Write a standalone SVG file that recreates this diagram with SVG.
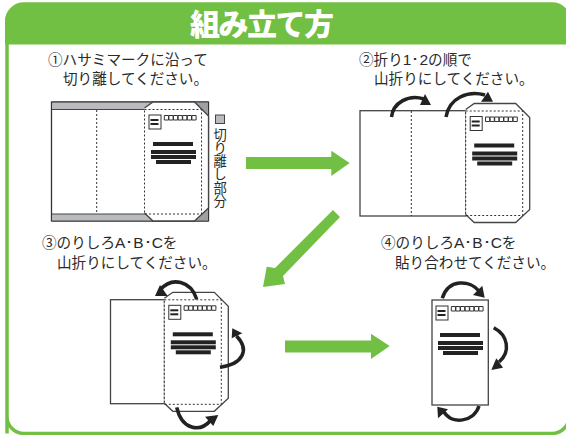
<svg xmlns="http://www.w3.org/2000/svg" xmlns:xlink="http://www.w3.org/1999/xlink" width="566" height="435" viewBox="0 0 566 435">
<style>
text{font-family:"Noto Sans CJK JP","Noto Sans",sans-serif;fill:#2a2a2a;font-size:14.6px}
.title{font-size:30px;font-weight:900;fill:#fff}
.lat{font-family:"Liberation Sans",sans-serif;font-size:15.500px}
.paper{fill:#fff;stroke:#444;stroke-width:1.3}
.edge{fill:none;stroke:#444;stroke-width:1.3}
.dot{fill:none;stroke:#333;stroke-width:1;stroke-dasharray:2 2}
.ink{fill:#222}
.thin{fill:#fff;stroke:#333;stroke-width:1}
.curve{fill:none;stroke:#222;stroke-width:3.500;stroke-linecap:butt}
.head{fill:#222}
.big{fill:#72c043}
</style>
<defs>
<g id="content">
<rect class="thin" x="4.500" y="13" width="12" height="14"/>
<rect class="ink" x="6" y="17" width="8" height="2"/>
<rect class="ink" x="6" y="21" width="8" height="2"/>
<path class="thin" d="M19.800 13.500h4.200v4.500h-4.200zM24.400 13.500h4.200v4.500h-4.200zM29 13.500h4.200v4.500h-4.200zM33.600 13.500h4.200v4.500h-4.200zM38.200 13.500h4.200v4.500h-4.200zM42.800 13.500h4.200v4.500h-4.200zM47.400 13.500h4.200v4.500h-4.200z"/>
<rect class="ink" x="8.500" y="40" width="40" height="4"/>
<rect class="ink" x="6.500" y="48" width="45" height="4"/>
<rect class="ink" x="6.500" y="53" width="45" height="4"/>
<rect class="ink" x="11.500" y="58" width="35" height="4"/>
</g>
<g id="card">
<path fill="#fff" d="M0 6L8.500 0H50L64 14V106L50 119H8.500L0 111Z"/>
<path class="edge" d="M0 6L8.500 0H50L64 14V106L50 119H8.500L0 111"/>
<rect class="dot" x="0" y="7.500" width="57" height="104.500"/>
<use xlink:href="#content" href="#content"/>
</g>
</defs>
<g id="frame">
<path d="M7 433.500V21A17 17 0 0 1 24 4H552A17 17 0 0 1 569 21V416.500A17 17 0 0 1 552 433.500H24A17 17 0 0 1 7 416.500Z" fill="#fff" stroke="#72c043" stroke-width="3.500"/>
<path class="big" d="M5 44.500V21A17 17 0 0 1 22 4H552A17 17 0 0 1 569 21V44.500Z"/>
<text class="title" x="190" y="35" textLength="144">組み立て方</text>
</g>
<g id="step1">
<text x="48" y="65">①ハサミマークに沿って</text>
<text x="63" y="84">切り離してください。</text>
<rect x="51.500" y="102" width="157" height="119" fill="#fff" stroke="#333" stroke-width="1.300"/>
<rect x="52" y="102.500" width="156" height="7" fill="#b9bbbe"/>
<rect x="52" y="214" width="156" height="7" fill="#b9bbbe"/>
<path d="M194 102.500H208V116ZM208 207V220.500H194Z" fill="#9ea0a3"/>
<path d="M52 102H208M52 109.500H145M52 214H145M52 221H208" stroke="#444" fill="none" stroke-width="1"/>
<path class="dot" d="M96.700 110V213"/>
<use xlink:href="#card" href="#card" x="144.500" y="102"/>
<rect x="215.500" y="115" width="9" height="8.500" fill="#b9bbbe" stroke="#444" stroke-width="1"/>
<text x="213.400 213.400 213.400 213.400 213.400 213.400" y="139.500 152.800 166.100 179.400 192.700 206" style="font-size:13.300px">切り離し部分</text>
</g>
<g id="step2">
<text x="359" y="65">②折り<tspan class="lat">1･2</tspan>の順で</text>
<text x="374" y="84">山折りにしてください。</text>
<rect class="paper" x="360" y="110.700" width="106" height="105.300"/>
<path class="dot" d="M411.300 111V216"/>
<use xlink:href="#card" href="#card" x="465.700" y="103.500"/>
</g>
<g id="step3">
<text x="42" y="248">③のりしろ<tspan class="lat">A･B･C</tspan>を</text>
<text x="57" y="268">山折りにしてください。</text>
<rect class="paper" x="110.500" y="299.700" width="54" height="104"/>
<use xlink:href="#card" href="#card" x="164.300" y="292.300"/>
</g>
<g id="step4">
<text x="381" y="248">④のりしろ<tspan class="lat">A･B･C</tspan>を</text>
<text x="395" y="268">貼り合わせてください。</text>
<rect class="paper" x="432" y="300" width="56.300" height="105"/>
<use xlink:href="#content" href="#content" x="431.500" y="293"/>
</g>
<g id="connectors">
<polygon class="big" points="246,157 331.300,157 331.300,150.700 349.700,163 331.300,176 331.300,169 246,169"/>
<polygon class="big" points="333,210 340,217 283,276 285,284 263,287 266.700,266.700 275,268"/>
<polygon class="big" points="285,340.500 371,340.500 371,333.700 389.700,346 371,359 371,352.500 285,352.500"/>
<path class="curve" d="M391.500 117C393 103 408 94 424 99"/>
<polygon class="head" points="431,105 420,105 425,94"/>
<path class="curve" d="M446 117C449 98 468 90 485 95"/>
<polygon class="head" points="493,101.700 481,101.700 488,91.700"/>
<path class="curve" d="M196.700 299.300C191 281 172 276 160 290"/>
<polygon class="head" points="155,296 160,285 167.700,296"/>
<path class="curve" d="M220 367.300C243 364 250 350 236.500 336"/>
<polygon class="head" points="232.300,328.300 231.700,338.300 242.300,333.300"/>
<path class="curve" d="M176.700 407.300C182 430 200 433 211 420"/>
<polygon class="head" points="218.300,415 205,416.700 213.300,426"/>
<path class="curve" d="M442.300 298.300C448 279 470 279 480 292"/>
<polygon class="head" points="484.700,297.700 473,295 482.300,285.700"/>
<path class="curve" d="M493.700 327.700C508 335 511 352 499 362"/>
<polygon class="head" points="491.300,370 496.300,358.300 503,367.700"/>
<path class="curve" d="M479 406C474 422 452 425 444 412"/>
<polygon class="head" points="437.300,406.700 438,418.300 448,409.300"/>
</g>
</svg>
